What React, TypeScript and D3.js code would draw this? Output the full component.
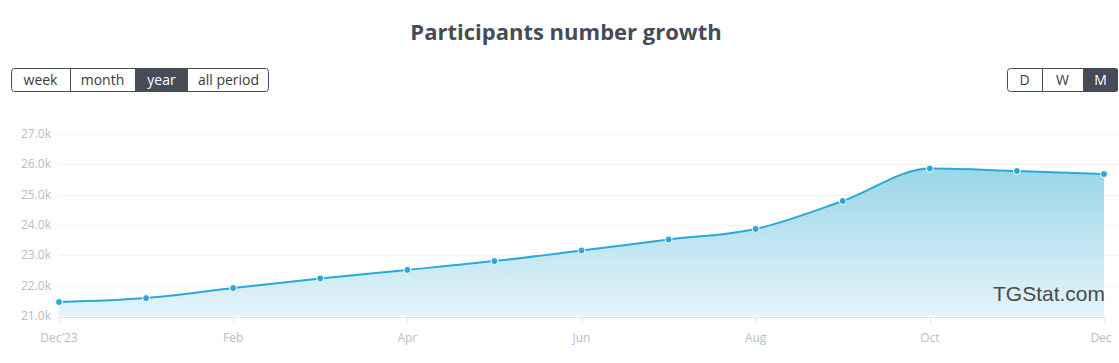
import React from "react";
import * as d3 from "d3";

const months = ["Dec'23", "Jan", "Feb", "Mar", "Apr", "May", "Jun", "Jul", "Aug", "Sep", "Oct", "Nov", "Dec"];
const values = [21460, 21590, 21920, 22240, 22520, 22810, 23160, 23520, 23870, 24790, 25860, 25780, 25680];
const yTicks = [21000, 22000, 23000, 24000, 25000, 26000, 27000];
const xTickLabels = ["Dec'23", "Feb", "Apr", "Jun", "Aug", "Oct", "Dec"];
const periodButtons = ["week", "month", "year", "all period"];
const periodActive = "year";
const scaleButtons = ["D", "W", "M"];
const scaleActive = "M";

const W = 1119;
const H = 363;
const font = "'Open Sans', 'Noto Sans', sans-serif";
const dark = "#464c56";

export default function App() {
  const x = d3.scalePoint<string>().domain(months).range([59, 1104]);
  const y = d3.scaleLinear().domain([21000, 27000]).range([316, 134]);
  const line = d3
    .line<number>()
    .x((_, i) => x(months[i]) as number)
    .y((d) => y(d))
    .curve(d3.curveMonotoneX);
  const area = d3
    .area<number>()
    .x((_, i) => x(months[i]) as number)
    .y0(y(21000))
    .y1((d) => y(d))
    .curve(d3.curveMonotoneX);

  const periodWidths = [59, 65, 53, 81];
  const scaleWidths = [35, 41, 35];
  let px = 11;
  let sx = 1007;

  return (
    <svg
      width={W}
      height={H}
      style={{ position: "absolute", left: 0, top: 0, background: "#fff" }}
      fontFamily={font}
    >
      <defs>
        <linearGradient id="fillGrad" x1="0" y1="0" x2="0" y2="1">
          <stop offset="0%" stopColor="#9ad6ea" />
          <stop offset="100%" stopColor="#e4f4f9" />
        </linearGradient>
      </defs>
      <text x={566} y={40} textAnchor="middle" fontSize={22} fontWeight={700} fill={dark}>
        Participants number growth
      </text>

      {/* period buttons */}
      <g>
        <rect x={11.5} y={68.5} width={257} height={23} rx={3} fill="#fff" stroke={dark} />
        {periodButtons.map((b, i) => {
          const w = periodWidths[i];
          const bx = px;
          px += w;
          const active = b === periodActive;
          return (
            <g key={b}>
              {active && <rect x={bx} y={68} width={w} height={24} fill={dark} />}
              {i > 0 && !active && periodButtons[i - 1] !== periodActive && (
                <line x1={bx + 0.5} x2={bx + 0.5} y1={68} y2={92} stroke={dark} />
              )}
              <text x={bx + w / 2} y={85} textAnchor="middle" fontSize={14} fill={active ? "#fff" : "#3a3a3a"}>
                {b}
              </text>
            </g>
          );
        })}
      </g>
      <g>
        <rect x={1007.5} y={68.5} width={110} height={23} rx={3} fill="#fff" stroke={dark} />
        {scaleButtons.map((b, i) => {
          const w = scaleWidths[i];
          const bx = sx;
          sx += w;
          const active = b === scaleActive;
          return (
            <g key={b}>
              {active && <path d={`M${bx},68 H${bx + w - 3} Q${bx + w},68 ${bx + w},71 V89 Q${bx + w},92 ${bx + w - 3},92 H${bx} Z`} fill={dark} />}
              {i > 0 && !active && (
                <line x1={bx + 0.5} x2={bx + 0.5} y1={68} y2={92} stroke={dark} />
              )}
              <text x={bx + w / 2} y={85} textAnchor="middle" fontSize={14} fill={active ? "#fff" : "#3a3a3a"}>
                {b}
              </text>
            </g>
          );
        })}
      </g>

      {/* grid */}
      {yTicks.map((t) => (
        <g key={t}>
          {t !== 21000 && (
            <line x1={59} x2={1119} y1={Math.round(y(t)) + 0.5} y2={Math.round(y(t)) + 0.5} stroke="#f2f2f2" />
          )}
          <text x={51} y={y(t) + 4} textAnchor="end" fontSize={12} fill="#b9bcc4">
            {(t / 1000).toFixed(1) + "k"}
          </text>
        </g>
      ))}

      <path d={area(values) || ""} fill="url(#fillGrad)" />
      <path d={line(values) || ""} fill="none" stroke="#2aa9d5" strokeWidth={2} />

      {/* x axis */}
      <line x1={59} x2={1104} y1={317.5} y2={317.5} stroke="#e3e3e3" />
      {xTickLabels.map((m, i) => {
        const key = i === xTickLabels.length - 1 ? "Dec" : m;
        const xp = x(key) as number;
        return (
          <g key={m}>
            <line x1={Math.round(xp) + 0.5} x2={Math.round(xp) + 0.5} y1={317} y2={323} stroke="#e3e3e3" />
            <text x={i === xTickLabels.length - 1 ? xp - 3 : xp} y={342} textAnchor="middle" fontSize={12} fill="#b9bcc4">
              {m}
            </text>
          </g>
        );
      })}

      {values.map((v, i) => (
        <circle key={i} cx={x(months[i])} cy={y(v)} r={3.5} fill="#2aa9d5" stroke="#fff" strokeWidth={1} />
      ))}

      <text x={1105} y={301} textAnchor="end" fontSize={21} fill="#4a4a4a" fontFamily="'Liberation Sans', Arial, sans-serif">
        TGStat.com
      </text>
    </svg>
  );
}
